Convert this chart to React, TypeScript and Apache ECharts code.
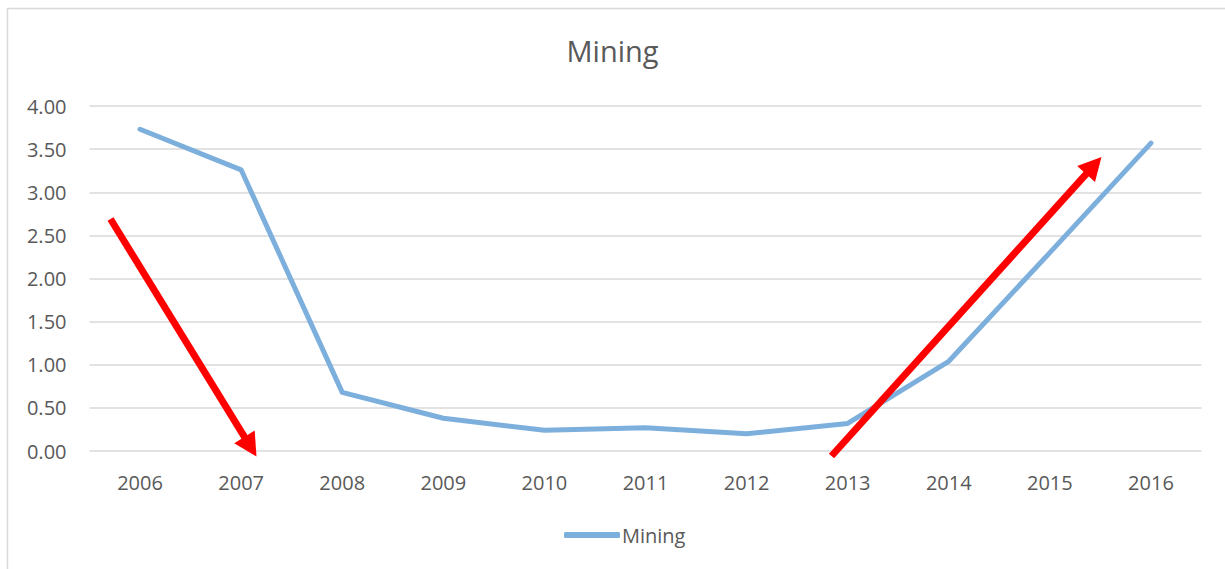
import React, { useEffect, useRef } from "react";
import * as echarts from "echarts";

const title = "Mining";
const seriesName = "Mining";
const years = ["2006", "2007", "2008", "2009", "2010", "2011", "2012", "2013", "2014", "2015", "2016"];
const miningValues = [3.73, 3.26, 0.68, 0.38, 0.24, 0.27, 0.2, 0.32, 1.04, 2.3, 3.57];
const yMin = 0;
const yMax = 4;
const yInterval = 0.5;

// annotation arrows (tail -> tip), in page pixels
const arrowDown = { from: [110.5, 219], to: [256.5, 456.5] };
const arrowUp = { from: [831.5, 456], to: [1101.5, 157] };

const FONT = "'Open Sans', 'Noto Sans', sans-serif";
const TEXT = "#595959";
const LINE_COLOR = "#7DAFDD";

function arrowElements(a: { from: number[]; to: number[] }) {
  const [x1, y1] = a.from;
  const [x2, y2] = a.to;
  const dx = x2 - x1;
  const dy = y2 - y1;
  const len = Math.hypot(dx, dy);
  const ux = dx / len;
  const uy = dy / len;
  const headLen = 23;
  const headHalf = 12;
  const bx = x2 - ux * headLen;
  const by = y2 - uy * headLen;
  const px = -uy;
  const py = ux;
  return [
    {
      type: "line",
      shape: { x1, y1, x2: bx + ux * 2, y2: by + uy * 2 },
      style: { stroke: "#FF0000", lineWidth: 7, lineCap: "butt" },
      z: 100,
    },
    {
      type: "polygon",
      shape: {
        points: [
          [x2, y2],
          [bx + px * headHalf, by + py * headHalf],
          [bx - px * headHalf, by - py * headHalf],
        ],
      },
      style: { fill: "#FF0000" },
      z: 100,
    },
  ];
}

export default function App() {
  const ref = useRef<HTMLDivElement>(null);
  useEffect(() => {
    if (!ref.current) return;
    const chart = echarts.init(ref.current, undefined, { renderer: "svg" });
    chart.setOption({
      animation: false,
      backgroundColor: "#FFFFFF",
      title: {
        text: title,
        left: "center",
        top: 31,
        textStyle: { fontFamily: FONT, fontSize: 29, fontWeight: "normal", color: TEXT },
      },
      legend: {
        data: [{ name: seriesName, icon: "roundRect" }],
        left: 559,
        top: 520,
        itemWidth: 56,
        itemHeight: 6,
        itemStyle: { color: LINE_COLOR },
        textStyle: { fontFamily: FONT, fontSize: 20, color: TEXT, padding: [0, 0, 0, -3] },
      },
      grid: { left: 89.5, right: 23.5, top: 106, bottom: 118, containLabel: false },
      xAxis: {
        type: "category",
        data: years,
        boundaryGap: true,
        axisLine: { show: false },
        axisTick: { show: false },
        axisLabel: { fontFamily: FONT, fontSize: 20, color: TEXT, margin: 21 },
      },
      yAxis: {
        type: "value",
        min: yMin,
        max: yMax,
        interval: yInterval,
        axisLine: { show: false },
        axisTick: { show: false },
        axisLabel: {
          fontFamily: FONT,
          fontSize: 20,
          color: TEXT,
          margin: 23,
          formatter: (v: number) => v.toFixed(2),
        },
        splitLine: { lineStyle: { color: "#D9D9D9", width: 1.5 } },
      },
      series: [
        {
          name: seriesName,
          type: "line",
          data: miningValues,
          symbol: "none",
          lineStyle: { color: LINE_COLOR, width: 5, cap: "round", join: "round" },
          itemStyle: { color: LINE_COLOR },
        },
      ],
      graphic: [
        {
          type: "polyline",
          shape: { points: [[7.5, 600], [7.5, 8.5], [1240, 8.5]] },
          style: { stroke: "#D9D9D9", lineWidth: 1.5, fill: null },
          z: 0,
        },
        ...arrowElements(arrowDown),
        ...arrowElements(arrowUp),
      ],
    });
    return () => chart.dispose();
  }, []);
  return (
    <div
      ref={ref}
      style={{ position: "absolute", left: 0, top: 0, width: 1225, height: 569 }}
    />
  );
}
